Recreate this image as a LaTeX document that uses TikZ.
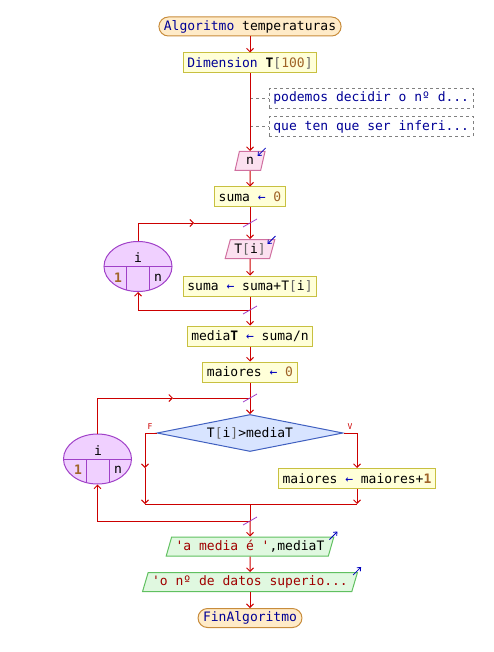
\documentclass[tikz,border=0pt]{standalone}
\usepackage{fontspec}
\setmonofont{DejaVu Sans Mono}
\usetikzlibrary{shapes.geometric,arrows.meta}

\definecolor{linea}{RGB}{204,0,0}
\definecolor{clave}{RGB}{0,0,150}
\definecolor{numero}{RGB}{160,100,40}
\definecolor{cadena}{RGB}{160,0,0}
\definecolor{asigcol}{RGB}{0,0,190}
\definecolor{corchete}{RGB}{100,100,100}
\definecolor{termfondo}{RGB}{255,235,200}
\definecolor{termborde}{RGB}{200,140,60}
\definecolor{procfondo}{RGB}{255,255,216}
\definecolor{procborde}{RGB}{200,192,64}
\definecolor{entfondo}{RGB}{252,224,240}
\definecolor{entborde}{RGB}{208,112,160}
\definecolor{salfondo}{RGB}{224,248,224}
\definecolor{salborde}{RGB}{96,192,96}
\definecolor{decfondo}{RGB}{216,228,255}
\definecolor{decborde}{RGB}{64,96,192}
\definecolor{bucfondo}{RGB}{240,208,255}
\definecolor{bucborde}{RGB}{160,64,200}
\definecolor{comtexto}{RGB}{0,0,150}

\newcommand{\kw}[1]{\textcolor{clave}{#1}}
\newcommand{\nro}[1]{\textcolor{numero}{#1}}
\newcommand{\cad}[1]{\textcolor{cadena}{#1}}
\newcommand{\cor}[1]{\textcolor{corchete}{#1}}
\newcommand{\asig}{\textcolor{asigcol}{←}}

\tikzset{
  term/.style={rounded corners=9.5, draw=termborde, fill=termfondo, line width=1,
    minimum height=19, inner xsep=5, inner ysep=0},
  proc/.style={rectangle, draw=procborde, fill=procfondo, line width=1,
    minimum height=20, inner xsep=4, inner ysep=0},
  entrada/.style={trapezium, trapezium left angle=66, trapezium right angle=114,
    trapezium stretches=true, draw=entborde, fill=entfondo, line width=1,
    minimum height=19, inner xsep=4, inner ysep=0},
  salida/.style={entrada, draw=salborde, fill=salfondo},
  decision/.style={diamond, aspect=5, draw=decborde, fill=decfondo, line width=1,
    minimum width=186, minimum height=37, inner sep=0},
  bucle/.style={ellipse, draw=bucborde, fill=bucfondo, line width=1,
    minimum width=68, minimum height=50, inner sep=0},
  coment/.style={anchor=west, draw=gray, dashed, line width=0.8, text=comtexto,
    minimum height=20, inner xsep=4, inner ysep=0},
  comlinea/.style={draw=gray, dashed, line width=0.8},
  flujo/.style={draw=linea, line width=1},
  flecha/.style={flujo, -{Straight Barb[length=3.5pt,width=7pt]}},
  marca/.style={draw=bucborde, line width=0.8},
  io/.style={draw=asigcol, line width=0.8, -{Straight Barb[length=3pt,width=5pt]}},
  rama/.style={text=linea, font=\ttfamily\fontsize{8}{9}\selectfont}
}

\begin{document}
\begin{tikzpicture}[x=1pt, y=-1pt, font=\ttfamily\fontsize{13}{15}\selectfont]
\useasboundingbox (0,0) rectangle (494,652);

% cabecera
\node[term] (ini) at (250,26.5) {\kw{Algoritmo} temperaturas};
\node[proc] (dim) at (250,63) {\kw{Dimension} \textbf{T}\cor{[}\nro{100}\cor{]}};

% comentarios
\node[coment] (c1) at (269,98) {podemos decidir o nº d...};
\node[coment] (c2) at (269,126.5) {que ten que ser inferi...};
\coordinate (c1a) at (250,98);
\coordinate (c2a) at (250,126.5);
\draw[comlinea] (c1a) -- (c1);
\draw[comlinea] (c2a) -- (c2);

% lectura de datos
\node[entrada, minimum width=30] (n) at (250,161) {n};
\node[proc] (s0) at (250,197) {suma \asig{} \nro{0}};
\node[entrada] (ti) at (250,249) {T\cor{[}i\cor{]}};
\node[proc] (ss) at (250,286) {suma \asig{} suma+T\cor{[}i\cor{]}};
\node[proc] (med) at (250,336) {media\textbf{T} \asig{} suma/n};
\node[proc] (mai0) at (250,372) {maiores \asig{} \nro{0}};

\draw[flecha] (ini) -- (dim);
\draw[flecha] (dim) -- (n);
\draw[flecha] (n) -- (s0);
\draw[flecha] (s0) -- (ti);
\draw[flecha] (ti) -- (ss);
\draw[flecha] (ss) -- (med);
\draw[flecha] (med) -- (mai0);
\draw[io] ([yshift=3]n.top right corner) -- ++(-8,8);
\draw[io] ([yshift=3]ti.top right corner) -- ++(-8,8);

% primeiro bucle
\node[bucle] (for1) at (138,266.5) {};
\begin{scope}
  \clip (138,266.5) ellipse (34 and 25);
  \draw[marca, line width=1] (104,266.5) -- (172,266.5);
  \draw[marca, line width=1] (126,266.5) -- (126,292);
  \draw[marca, line width=1] (149,266.5) -- (149,292);
\end{scope}
\node (i1) at (138,258) {i};
\node[text=numero] (ini1) at (118,278) {\textbf{1}};
\node (fin1) at (158,278) {n};
\coordinate (j1) at (250,223);
\coordinate (m1) at (194,223);
\coordinate (j2) at (250,310);
\draw[flecha] (for1.north) |- (m1);
\draw[flujo] (m1) -- (j1);
\draw[flecha] (j2) -| (for1.south);
\draw[marca] (j1) ++(-7,4) -- ++(14,-8);
\draw[marca] (j2) ++(-7,4) -- ++(14,-8);

% segundo bucle
\node[decision] (cond) at (250,433) {T\cor{[}i\cor{]}>mediaT};
\node[proc] (may1) at (357,478.5) {maiores \asig{} maiores+\nro{\textbf{1}}};
\node[rama] (f) at (150,427) {F};
\node[rama] (v) at (350,427) {V};
\coordinate (j3) at (250,398);
\coordinate (m3) at (173,398);
\coordinate (fm) at (145,468);
\coordinate (jf) at (145,504);
\coordinate (jv) at (357,504);
\coordinate (j5) at (250,504);
\coordinate (j4) at (250,521);
\draw[flecha] (mai0) -- (cond);
\draw[flecha] (cond.west) -| (fm);
\draw[flecha] (fm) -- (jf);
\draw[flecha] (cond.east) -| (may1.north);
\draw[flecha] (may1) -- (jv);
\draw[flujo] (jf) -- (jv);
\draw[flujo] (j5) -- (j4);

\node[bucle] (for2) at (97.5,459) {};
\begin{scope}
  \clip (97.5,459) ellipse (34 and 25);
  \draw[marca, line width=1] (63,459) -- (132,459);
  \draw[marca, line width=1] (86,459) -- (86,485);
  \draw[marca, line width=1] (109,459) -- (109,485);
\end{scope}
\node (i2) at (98,451) {i};
\node[text=numero] (ini2) at (78,470) {\textbf{1}};
\node (fin2) at (118,470) {n};
\draw[flecha] (for2.north) |- (m3);
\draw[flujo] (m3) -- (j3);
\draw[flecha] (j4) -| (for2.south);
\draw[marca] (j3) ++(-7,4) -- ++(14,-8);
\draw[marca] (j4) ++(-7,4) -- ++(14,-8);

% saida
\node[salida] (out1) at (250,546.5) {\cad{'a media é '},mediaT};
\node[salida] (out2) at (250,582) {\cad{'o nº de datos superio...}};
\node[term] (fin) at (250,618) {\kw{FinAlgoritmo}};
\draw[flecha] (j4) -- (out1);
\draw[flecha] (out1) -- (out2);
\draw[flecha] (out2) -- (fin);
\draw[io] ([shift={(-5,3)}]out1.top right corner) -- ++(8,-8);
\draw[io] ([shift={(-5,3)}]out2.top right corner) -- ++(8,-8);

\end{tikzpicture}
\end{document}
